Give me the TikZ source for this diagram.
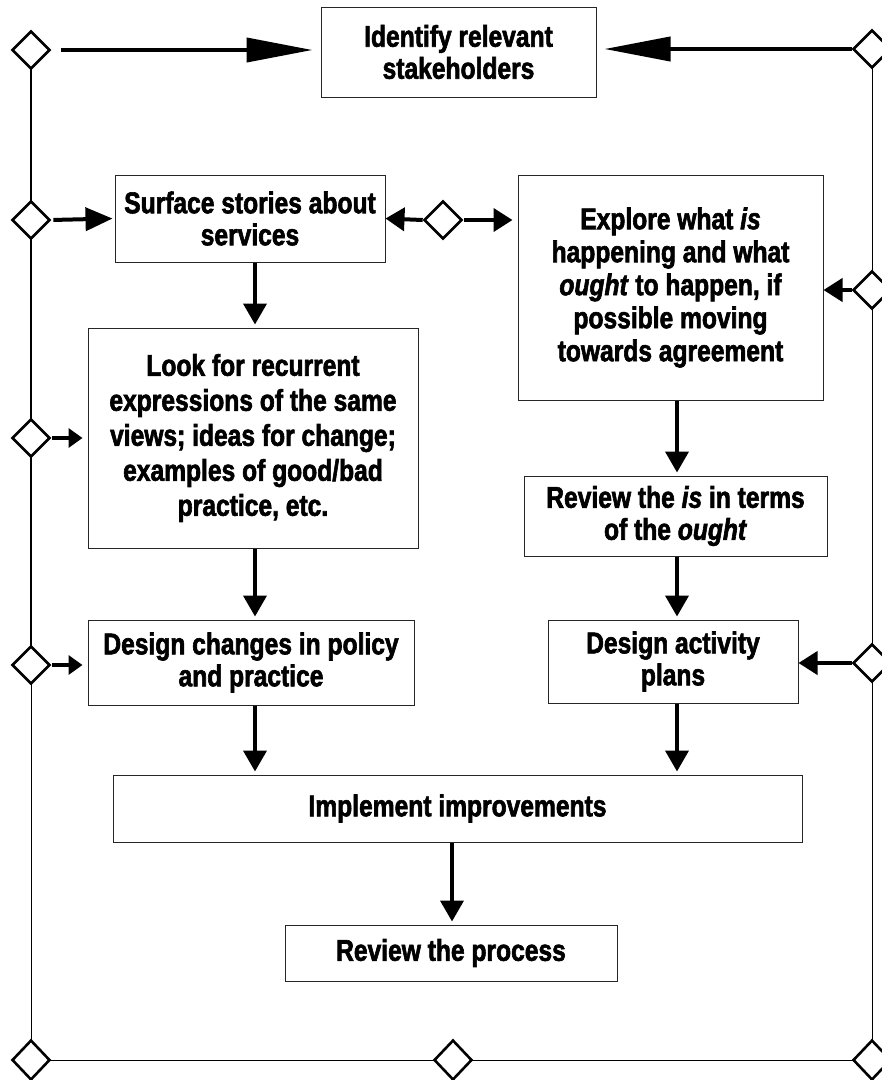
\documentclass[tikz,border=0pt]{standalone}
\usepackage{fontspec}
\newfontfamily\diagfont{Liberation Sans}[FakeStretch=0.82,FakeBold=2]
\usetikzlibrary{shapes.geometric,arrows.meta}
\tikzset{
  box/.style={draw=black!85, line width=1pt, fill=white, align=center, inner sep=2pt,
    font=\diagfont\bfseries\fontsize{30}{32}\selectfont},
  dmd/.style={draw=black, line width=2.6pt, fill=white, diamond, inner sep=0pt,
    minimum width=38pt, minimum height=38pt},
  frame/.style={draw=black, line width=1pt},
  framethick/.style={draw=black, line width=1.7pt},
  shaft/.style={draw=black, line width=4pt},
  bigarrow/.style={shaft, -{Triangle[length=66pt,width=24pt]}},
  sarrow/.style={shaft, -{Triangle[length=27pt,width=23pt]}},
  marrow/.style={shaft, -{Triangle[length=19pt,width=23pt]}},
  smarrow/.style={shaft, -{Triangle[length=14pt,width=19pt]}},
  varrow/.style={shaft, -{Triangle[length=21pt,width=23pt]}, shorten >=3pt},
}
\begin{document}
\begin{tikzpicture}[x=1pt,y=-1pt]
\useasboundingbox (0,0) rectangle (882,1080);
\clip (0,0) rectangle (882,1080);

% frame lines
\coordinate (tl) at (31,50);
\coordinate (tr) at (872,49);
\coordinate (bl) at (31,1060);
\coordinate (br) at (872,1060);
\coordinate (lm) at (31,665);
\draw[framethick] (tl) -- (lm);
\draw[frame] (lm) -- (bl) -- (br) -- (tr);

% boxes
\node[box, minimum width=275pt, minimum height=90pt] (top) at (458.5,52) {Identify relevant\\stakeholders};
\node[box, minimum width=270pt, minimum height=87pt] (surface) at (250,218.5) {Surface stories about\\services};
\node[box, minimum width=305pt, minimum height=225pt, font=\diagfont\bfseries\fontsize{30}{33}\selectfont] (explore) at (670.5,287.5) {Explore what \textit{is}\\happening and what\\\textit{ought} to happen, if\\possible moving\\towards agreement};
\node[box, minimum width=330pt, minimum height=220pt, font=\diagfont\bfseries\fontsize{30}{35}\selectfont] (look) at (253,438) {Look for recurrent\\expressions of the same\\views; ideas for change;\\examples of good/bad\\practice, etc.};
\node[box, minimum width=303pt, minimum height=80pt] (review) at (675.5,516) {Review the \textit{is} in terms\\of the \textit{ought}};
\node[box, minimum width=326pt, minimum height=85pt] (designc) at (251,662.5) {Design changes in policy\\and practice};
\node[box, minimum width=250pt, minimum height=83pt] (designa) at (673,661.5) {Design activity\\plans};
\node[box, minimum width=689pt, minimum height=67pt] (impl) at (457.5,808.5) {Implement improvements};
\node[box, minimum width=332pt, minimum height=56pt] (revp) at (451,953) {Review the process};

% diamonds
\node[dmd] (d1) at (tl) {};
\node[dmd] (d2) at (tr) {};
\node[dmd] (d3) at (31,220) {};
\node[dmd] (d4) at (443,220) {};
\node[dmd] (d5) at (872,290) {};
\node[dmd] (d6) at (31,438) {};
\node[dmd] (d7) at (lm) {};
\node[dmd] (d8) at (872,663) {};
\node[dmd, minimum width=38pt, minimum height=40pt] (d9) at (bl) {};
\node[dmd, minimum width=38pt, minimum height=40pt] (d10) at (453,1060) {};
\node[dmd, minimum width=38pt, minimum height=40pt] (d11) at (br) {};

% horizontal arrows from diamonds
\draw[bigarrow, shorten <=10pt, shorten >=8pt] (d1.east) -- (d1.east -| top.west);
\draw[bigarrow, shorten >=8pt] (d2.west) -- (d2.west -| top.east);
\draw[sarrow, shorten <=2pt, shorten >=2pt] (d3.east) -- (surface.west);
\draw[marrow] (d4.west) -- (surface.east);
\draw[marrow, shorten <=1pt, shorten >=5pt] (d4.east) -- (d4.east -| explore.west);
\draw[marrow] (d5.west) -- (d5.west -| explore.east);
\draw[smarrow, shorten <=1pt, shorten >=5pt] (d6.east) -- (d6.east -| look.west);
\draw[smarrow, shorten <=1pt, shorten >=5pt] (d7.east) -- (d7.east -| designc.west);
\draw[marrow] (d8.west) -- (d8.west -| designa.east);

% vertical arrows
\draw[varrow] ([xshift=5pt]surface.south) -- ([xshift=5pt]surface.south |- look.north);
\draw[varrow] ([xshift=2pt]look.south) -- ([xshift=2pt]look.south |- designc.north);
\draw[varrow] ([xshift=6.5pt]explore.south) -- ([xshift=6.5pt]explore.south |- review.north);
\draw[varrow] ([xshift=1.5pt]review.south) -- ([xshift=1.5pt]review.south |- designa.north);
\draw[varrow] ([xshift=4pt]designc.south) -- ([xshift=4pt]designc.south |- impl.north);
\draw[varrow] ([xshift=4pt]designa.south) -- ([xshift=4pt]designa.south |- impl.north);
\draw[varrow] ([xshift=-5.5pt]impl.south) -- ([xshift=-5.5pt]impl.south |- revp.north);
\end{tikzpicture}
\end{document}
